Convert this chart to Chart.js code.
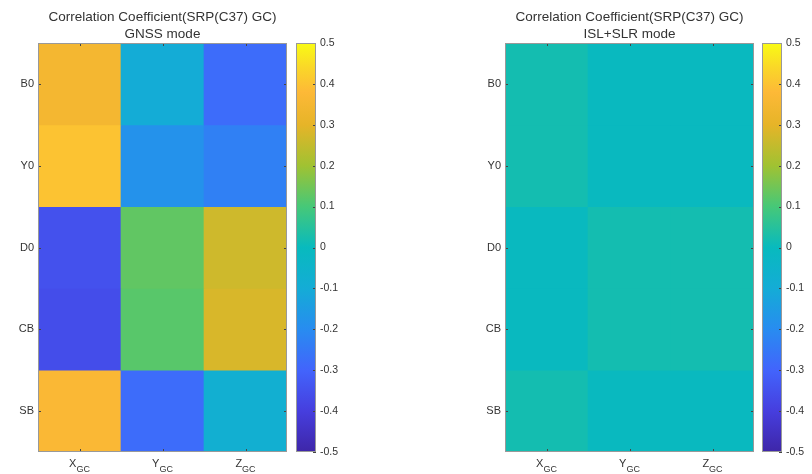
<!DOCTYPE html>
<html>
<head>
<meta charset="utf-8">
<script src="https://cdn.jsdelivr.net/npm/chart.js@4"></script>
<style>
  body { margin: 0; background: #fff; }
  canvas { position: absolute; top: 0; }
</style>
</head>
<body>
<canvas id="gnss" width="290" height="474" style="left:0"></canvas>
<canvas id="gnssBar" width="60" height="474" style="left:296px"></canvas>
<canvas id="isl" width="290" height="474" style="left:467px"></canvas>
<canvas id="islBar" width="60" height="474" style="left:762px"></canvas>
<script>
// rows / columns of the correlation matrix
const rowLabels = ['B0', 'Y0', 'D0', 'CB', 'SB'];
const colLabels = ['X', 'Y', 'Z'];
const colSub = 'GC';

// GNSS mode, one array per column (rows B0..SB)
const gnssX = [0.35, 0.40, -0.35, -0.36, 0.37];
const gnssY = [-0.10, -0.18, 0.13, 0.12, -0.28];
const gnssZ = [-0.28, -0.23, 0.265, 0.28, -0.08];

// ISL+SLR mode
const islX = [0.02, 0.02, -0.005, -0.005, 0.02];
const islY = [-0.005, -0.005, 0.02, 0.02, -0.005];
const islZ = [-0.005, -0.005, 0.02, 0.02, -0.005];

const cbarTicks = [-0.5, -0.4, -0.3, -0.2, -0.1, 0, 0.1, 0.2, 0.3, 0.4, 0.5];
const cMin = -0.5, cMax = 0.5;

const titleLine = 'Correlation Coefficient(SRP(C37) GC)';

// parula-like colour stops
const parula = [
  [0.00, 62, 38, 168],
  [0.10, 70, 62, 222],
  [0.20, 66, 100, 252],
  [0.30, 40, 140, 240],
  [0.40, 20, 172, 214],
  [0.50, 8, 186, 190],
  [0.60, 70, 200, 120],
  [0.70, 160, 194, 50],
  [0.80, 230, 180, 40],
  [0.88, 253, 185, 55],
  [0.94, 250, 215, 40],
  [1.00, 249, 251, 20]
];

function cmap(v) {
  let t = (v - cMin) / (cMax - cMin);
  t = Math.max(0, Math.min(1, t));
  for (let i = 1; i < parula.length; i++) {
    if (t <= parula[i][0]) {
      const a = parula[i - 1], b = parula[i];
      const f = (t - a[0]) / (b[0] - a[0]);
      const c = [1, 2, 3].map(k => Math.round(a[k] + (b[k] - a[k]) * f));
      return 'rgb(' + c.join(',') + ')';
    }
  }
  return 'rgb(249,251,20)';
}

Chart.defaults.font.family = 'Helvetica, Arial, "Liberation Sans", sans-serif';
Chart.defaults.color = '#333';

const fontMain = 'Helvetica, Arial, "Liberation Sans", sans-serif';

const panelDeco = {
  id: 'panelDeco',
  afterDraw(chart, args, opts) {
    const { ctx, chartArea: a, scales } = chart;
    ctx.save();
    // inner tick marks
    ctx.strokeStyle = '#444';
    ctx.lineWidth = 1;
    colLabels.forEach((c, i) => {
      const x = Math.round(scales.x.getPixelForValue(i)) + 0.5;
      ctx.beginPath();
      ctx.moveTo(x, a.top); ctx.lineTo(x, a.top + 3);
      ctx.moveTo(x, a.bottom); ctx.lineTo(x, a.bottom - 3);
      ctx.stroke();
    });
    rowLabels.forEach((r, i) => {
      const y = Math.round(scales.y.getPixelForValue(i)) + 0.5;
      ctx.beginPath();
      ctx.moveTo(a.left, y); ctx.lineTo(a.left + 3, y);
      ctx.moveTo(a.right, y); ctx.lineTo(a.right - 3, y);
      ctx.stroke();
    });
    // frame
    ctx.strokeStyle = '#999';
    ctx.strokeRect(a.left + 0.5, a.top + 0.5, a.right - a.left - 1, a.bottom - a.top - 1);
    // x labels with subscript
    ctx.fillStyle = '#333';
    ctx.textBaseline = 'alphabetic';
    colLabels.forEach((c, i) => {
      const cx = scales.x.getPixelForValue(i);
      ctx.font = '11px ' + fontMain;
      const w1 = ctx.measureText(c).width;
      ctx.font = '9px ' + fontMain;
      const w2 = ctx.measureText(colSub).width;
      const x0 = cx - (w1 + w2) / 2;
      ctx.font = '11px ' + fontMain;
      ctx.textAlign = 'left';
      ctx.fillText(c, x0, a.bottom + 15);
      ctx.font = '9px ' + fontMain;
      ctx.fillText(colSub, x0 + w1, a.bottom + 20);
    });
    // title
    const mid = (a.left + a.right) / 2;
    ctx.textAlign = 'center';
    ctx.textBaseline = 'middle';
    ctx.font = '13.5px ' + fontMain;
    ctx.fillText(titleLine, mid, 17);
    ctx.fillText(opts.mode, mid, 34);
    ctx.restore();
  }
};

function heatmap(id, cols, mode) {
  const datasets = rowLabels.map((r, ri) => ({
    data: colLabels.map(() => [ri - 0.5, ri + 0.5]),
    backgroundColor: cols.map(col => cmap(col[ri])),
    borderWidth: 0,
    grouped: false,
    barPercentage: 1,
    categoryPercentage: 1
  }));
  new Chart(document.getElementById(id), {
    type: 'bar',
    data: { labels: colLabels, datasets: datasets },
    options: {
      responsive: false,
      animation: false,
      devicePixelRatio: 1,
      layout: { padding: { top: 43, right: 3, left: 0, bottom: 0 } },
      plugins: { legend: { display: false }, tooltip: { enabled: false }, panelDeco: { mode: mode } },
      scales: {
        x: {
          grid: { display: false },
          border: { display: false },
          ticks: { display: false },
          afterFit(s) { s.height = 22; }
        },
        y: {
          min: -0.5,
          max: 4.5,
          reverse: true,
          grid: { display: false, drawTicks: false },
          border: { display: false },
          afterBuildTicks(s) { s.ticks = rowLabels.map((r, i) => ({ value: i })); },
          ticks: {
            padding: 4,
            font: { size: 11 },
            color: '#333',
            callback: v => rowLabels[v] || ''
          },
          afterFit(s) { s.width = 38; }
        }
      }
    },
    plugins: [panelDeco]
  });
}

const cbarDeco = {
  id: 'cbarDeco',
  afterDraw(chart) {
    const { ctx, chartArea: a, scales } = chart;
    ctx.save();
    ctx.strokeStyle = '#444';
    cbarTicks.forEach(v => {
      const y = Math.round(scales.y.getPixelForValue(v)) + 0.5;
      ctx.beginPath();
      ctx.moveTo(a.right, y); ctx.lineTo(a.right - 3, y);
      ctx.stroke();
    });
    ctx.strokeStyle = '#999';
    ctx.strokeRect(a.left + 0.5, a.top + 0.5, a.right - a.left - 1, a.bottom - a.top - 1);
    ctx.restore();
  }
};

function colorbar(id) {
  new Chart(document.getElementById(id), {
    type: 'bar',
    data: {
      labels: [''],
      datasets: [{
        data: [[cMin, cMax]],
        borderWidth: 0,
        barPercentage: 1,
        categoryPercentage: 1,
        backgroundColor(c) {
          const a = c.chart.chartArea;
          if (!a) return '#0bb';
          const g = c.chart.ctx.createLinearGradient(0, a.bottom, 0, a.top);
          parula.forEach(p => g.addColorStop(p[0], 'rgb(' + p[1] + ',' + p[2] + ',' + p[3] + ')'));
          return g;
        }
      }]
    },
    options: {
      responsive: false,
      animation: false,
      devicePixelRatio: 1,
      layout: { padding: { top: 43, bottom: 22, left: 0, right: 0 } },
      plugins: { legend: { display: false }, tooltip: { enabled: false } },
      scales: {
        x: { display: false },
        y: {
          position: 'right',
          min: cMin,
          max: cMax,
          grid: { display: false, drawTicks: false },
          border: { display: false },
          afterBuildTicks(s) { s.ticks = cbarTicks.map(v => ({ value: v })); },
          ticks: {
            padding: 4,
            font: { size: 10.5 },
            color: '#333',
            callback: v => String(Math.round(v * 10) / 10)
          },
          afterFit(s) { s.width = 40; }
        }
      }
    },
    plugins: [cbarDeco]
  });
}

heatmap('gnss', [gnssX, gnssY, gnssZ], 'GNSS mode');
colorbar('gnssBar');
heatmap('isl', [islX, islY, islZ], 'ISL+SLR mode');
colorbar('islBar');
</script>
</body>
</html>
